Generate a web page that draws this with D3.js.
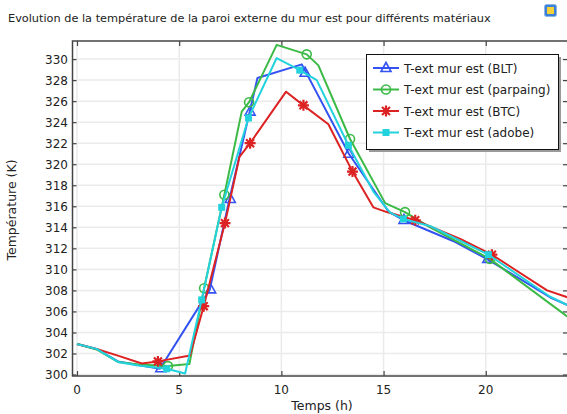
<!DOCTYPE html>
<html>
<head>
<meta charset="utf-8">
<script src="https://cdn.jsdelivr.net/npm/d3@7"></script>
<style>
  body { margin: 0; background: #fff; }
  text { font-family: "DejaVu Sans", sans-serif; }
</style>
</head>
<body>
<svg id="chart" width="567" height="414"></svg>
<script>
// Chart text
const chartTitle = "Evolution de la température de la paroi externe du mur est pour différents matériaux";
const xTitle = "Temps (h)";
const yTitle = "Température (K)";
const xTickValues = [0, 5, 10, 15, 20];
const yTickValues = [300, 302, 304, 306, 308, 310, 312, 314, 316, 318, 320, 322, 324, 326, 328, 330];
const seriesLabels = ["T-ext mur est (BLT)", "T-ext mur est (parpaing)", "T-ext mur est (BTC)", "T-ext mur est (adobe)"];

// BLT
const bltTime = [0, 1, 2, 3, 4.06, 6.5, 7.45, 8.45, 8.83, 11.0, 13.3, 15.24, 15.96, 18.4, 20.05, 23.2, 24];
const bltTemp = [302.9, 302.4, 301.25, 300.9, 300.55, 308.1, 316.6, 325.0, 328.2, 329.5, 321.0, 315.5, 314.7, 312.7, 311.0, 307.3, 306.6];
const bltMarkTime = [4.1, 6.54, 7.5, 8.47, 11.16, 13.3, 16.0, 20.1];
const bltMarkTemp = [300.6, 308.1, 316.7, 325.0, 328.7, 321.0, 314.7, 311.0];

// Parpaing
const parpaingTime = [0, 1, 2, 3, 4.45, 5.5, 6.22, 7.21, 8.06, 8.42, 9.77, 11.24, 11.81, 13.36, 15.08, 16.05, 17.28, 20.2, 24];
const parpaingTemp = [302.9, 302.35, 301.2, 300.95, 300.8, 301.0, 308.2, 317.1, 325.0, 325.9, 331.35, 330.45, 329.4, 322.4, 316.3, 315.45, 314.0, 311.0, 305.5];
const parpaingMarkTime = [4.45, 6.22, 7.21, 8.42, 11.24, 13.36, 16.05, 20.2];
const parpaingMarkTemp = [300.8, 308.2, 317.1, 325.9, 330.45, 322.4, 315.45, 311.0];

// BTC
const btcTime = [0, 1, 2, 3.17, 3.96, 5.53, 6.2, 7.24, 7.95, 8.47, 10.23, 11.08, 12.3, 13.48, 14.5, 15.16, 16.55, 18.75, 20.3, 23.0, 24];
const btcTemp = [302.9, 302.4, 301.8, 301.05, 301.25, 301.8, 306.5, 314.4, 320.7, 322.0, 326.9, 325.6, 323.8, 319.3, 315.9, 315.45, 314.67, 312.9, 311.4, 308.0, 307.35];
const btcMarkTime = [3.96, 6.2, 7.24, 8.47, 11.08, 13.48, 16.55, 20.3];
const btcMarkTemp = [301.25, 306.5, 314.4, 322.0, 325.6, 319.3, 314.67, 311.4];

// Adobe
const adobeTime = [0, 1, 2, 3, 4.39, 5.29, 6.1, 7.08, 8.39, 9.77, 10.9, 11.73, 13.28, 14.5, 15.32, 15.97, 17.3, 20.13, 23.15, 24];
const adobeTemp = [302.9, 302.4, 301.2, 300.85, 300.55, 300.1, 307.1, 315.9, 324.4, 330.1, 328.95, 328.0, 321.8, 317.4, 315.4, 314.8, 314.1, 311.4, 307.4, 306.6];
const adobeMarkTime = [4.39, 6.1, 7.08, 8.39, 10.9, 13.28, 15.97, 20.13];
const adobeMarkTemp = [300.55, 307.1, 315.9, 324.4, 328.95, 321.8, 314.8, 311.4];

const series = [
  { name: seriesLabels[0], color: "#3352f2", marker: "triangle", t: bltTime, v: bltTemp, mt: bltMarkTime, mv: bltMarkTemp },
  { name: seriesLabels[1], color: "#3cba46", marker: "circle", t: parpaingTime, v: parpaingTemp, mt: parpaingMarkTime, mv: parpaingMarkTemp },
  { name: seriesLabels[2], color: "#dc2222", marker: "star", t: btcTime, v: btcTemp, mt: btcMarkTime, mv: btcMarkTemp },
  { name: seriesLabels[3], color: "#22d2dc", marker: "square", t: adobeTime, v: adobeTemp, mt: adobeMarkTime, mv: adobeMarkTemp }
];

const svg = d3.select("#chart");
const plot = { left: 72.5, right: 568.5, top: 41, bottom: 376 };

const x = d3.scaleLinear().domain([-0.22, 24]).range([plot.left, 567.5]);
const y = d3.scaleLinear().domain([299.86, 331.72]).range([plot.bottom, plot.top]);

// Title
svg.append("text").attr("x", 8).attr("y", 22).attr("font-size", 11.3).attr("fill", "#222").text(chartTitle);

// Small window icon at the top right
const icon = svg.append("g").attr("transform", "translate(544,4)");
icon.append("rect").attr("x", 0.5).attr("y", 0.5).attr("width", 12).attr("height", 12).attr("rx", 2)
  .attr("fill", "#3a7fd8").attr("stroke", "#8ab4e6");
icon.append("rect").attr("x", 3).attr("y", 3).attr("width", 7).attr("height", 7).attr("fill", "#f4d23a");

// Clip for plot content
svg.append("clipPath").attr("id", "plotClip").append("rect")
  .attr("x", plot.left).attr("y", plot.top).attr("width", plot.right - plot.left).attr("height", plot.bottom - plot.top);

// Grid lines
const grid = svg.append("g").attr("clip-path", "url(#plotClip)");
grid.selectAll("line.h").data(yTickValues).join("line")
  .attr("x1", plot.left).attr("x2", plot.right)
  .attr("y1", d => y(d)).attr("y2", d => y(d))
  .attr("stroke", "#ebebeb").attr("stroke-width", 1.5);
grid.selectAll("line.v").data(xTickValues).join("line")
  .attr("x1", d => x(d)).attr("x2", d => x(d))
  .attr("y1", plot.top).attr("y2", plot.bottom)
  .attr("stroke", "#ebebeb").attr("stroke-width", 1.5);

// Axes with inward ticks
const axisColor = "#444";
const xAxisBottom = svg.append("g").attr("transform", `translate(0,${plot.bottom})`)
  .call(d3.axisTop(x).tickValues(xTickValues).tickSize(5).tickFormat(""));
const xAxisTop = svg.append("g").attr("transform", `translate(0,${plot.top})`)
  .call(d3.axisBottom(x).tickValues(xTickValues).tickSize(5).tickFormat(""));
const yAxisLeft = svg.append("g").attr("transform", `translate(${plot.left},0)`)
  .call(d3.axisRight(y).tickValues(yTickValues).tickSize(4).tickFormat(""));
const yAxisRight = svg.append("g").attr("transform", `translate(${plot.right - 1.5},0)`)
  .call(d3.axisLeft(y).tickValues(yTickValues).tickSize(4).tickFormat(""));
[xAxisBottom, xAxisTop, yAxisLeft, yAxisRight].forEach(g => {
  g.select(".domain").remove();
  g.selectAll(".tick line").attr("stroke", axisColor).attr("stroke-width", 1.2);
});

// Frame
svg.append("rect").attr("x", plot.left).attr("y", plot.top)
  .attr("width", plot.right - plot.left).attr("height", plot.bottom - plot.top)
  .attr("fill", "none").attr("stroke", axisColor).attr("stroke-width", 1.5);

// Tick labels
svg.append("g").selectAll("text").data(xTickValues).join("text")
  .attr("x", d => x(d)).attr("y", 394).attr("text-anchor", "middle")
  .attr("font-size", 12).attr("fill", "#222").text(d => d);
svg.append("g").selectAll("text").data(yTickValues).join("text")
  .attr("x", 68).attr("y", d => y(d) + 4.5).attr("text-anchor", "end")
  .attr("font-size", 12).attr("fill", "#222").text(d => d);

// Axis titles
svg.append("text").attr("x", 322).attr("y", 410).attr("text-anchor", "middle")
  .attr("font-size", 12.5).attr("fill", "#222").text(xTitle);
svg.append("text").attr("transform", "translate(16,210) rotate(-90)").attr("text-anchor", "middle")
  .attr("font-size", 12.5).attr("fill", "#222").text(yTitle);

// Marker drawing
function drawMarker(g, type, color) {
  if (type === "triangle") {
    g.append("path").attr("d", "M0,-5.5L5,3.5L-5,3.5Z").attr("fill", "none").attr("stroke", color).attr("stroke-width", 1.6);
  } else if (type === "circle") {
    g.append("circle").attr("r", 4.5).attr("fill", "none").attr("stroke", color).attr("stroke-width", 1.6);
  } else if (type === "star") {
    const r = 5.5, q = r * 0.72;
    g.append("path").attr("d", `M${-r},0L${r},0M0,${-r}L0,${r}M${-q},${-q}L${q},${q}M${-q},${q}L${q},${-q}`)
      .attr("stroke", color).attr("stroke-width", 2.2).attr("fill", "none");
  } else if (type === "square") {
    g.append("rect").attr("x", -3.5).attr("y", -3.5).attr("width", 7).attr("height", 7).attr("fill", color);
  }
}

// Series lines and markers
const lineGen = d3.line().x(d => x(d[0])).y(d => y(d[1]));
const content = svg.append("g").attr("clip-path", "url(#plotClip)");
series.forEach(s => {
  const pts = s.t.map((t, i) => [t, s.v[i]]);
  content.append("path").datum(pts).attr("d", lineGen)
    .attr("fill", "none").attr("stroke", s.color).attr("stroke-width", 2).attr("stroke-linejoin", "round");
  const marks = s.mt.map((t, i) => [t, s.mv[i]]);
  marks.forEach(m => {
    const g = content.append("g").attr("transform", `translate(${x(m[0])},${y(m[1])})`);
    drawMarker(g, s.marker, s.color);
  });
});

// Legend
const legend = svg.append("g").attr("transform", "translate(366,54)");
const lw = 192, lh = 95;
legend.append("rect").attr("x", 3).attr("y", 3).attr("width", lw).attr("height", lh).attr("fill", "#9a9a9a");
legend.append("rect").attr("x", 0.5).attr("y", 0.5).attr("width", lw).attr("height", lh)
  .attr("fill", "#fff").attr("stroke", "#111").attr("stroke-width", 1);
series.forEach((s, i) => {
  const yy = 14 + i * 21.5;
  legend.append("line").attr("x1", 7).attr("x2", 33).attr("y1", yy).attr("y2", yy)
    .attr("stroke", s.color).attr("stroke-width", 2);
  drawMarker(legend.append("g").attr("transform", `translate(20,${yy})`), s.marker, s.color);
  legend.append("text").attr("x", 38).attr("y", yy + 4.5).attr("font-size", 12).attr("fill", "#222").text(s.name);
});
</script>
</body>
</html>
